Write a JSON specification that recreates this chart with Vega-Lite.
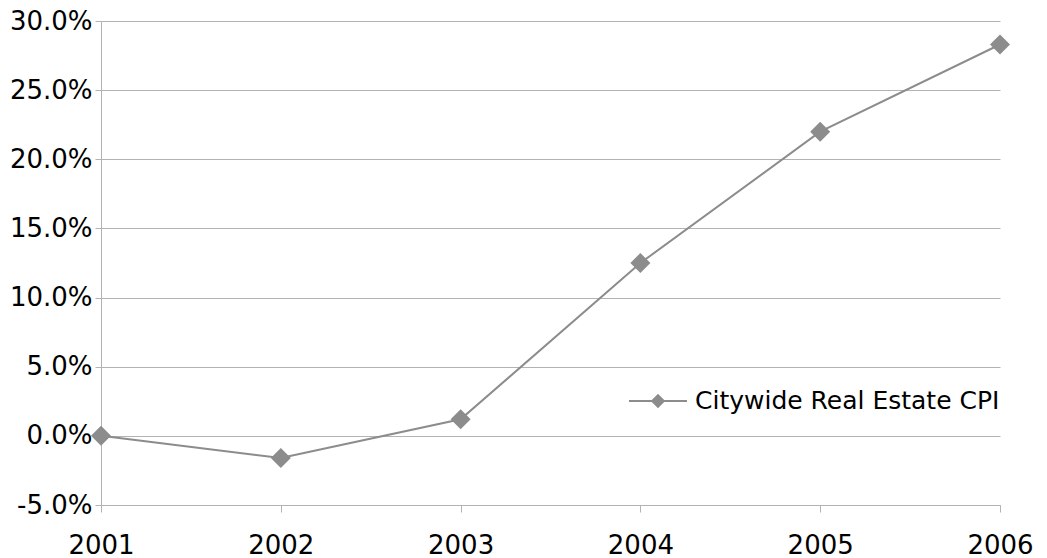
{
  "$schema": "https://vega.github.io/schema/vega-lite/v6.json",
  "width": 899,
  "height": 484,
  "autosize": "none",
  "padding": {"left": 101, "top": 21, "right": 47, "bottom": 53},
  "background": "white",
  "data": {
    "values": [
      {"year": 2001, "change": 0.0, "series": "Citywide Real Estate CPI"},
      {"year": 2002, "change": -0.016, "series": "Citywide Real Estate CPI"},
      {"year": 2003, "change": 0.012, "series": "Citywide Real Estate CPI"},
      {"year": 2004, "change": 0.125, "series": "Citywide Real Estate CPI"},
      {"year": 2005, "change": 0.22, "series": "Citywide Real Estate CPI"},
      {"year": 2006, "change": 0.283, "series": "Citywide Real Estate CPI"}
    ]
  },
  "mark": {
    "type": "line",
    "strokeWidth": 2,
    "point": {"shape": "diamond", "size": 400, "filled": true, "opacity": 1}
  },
  "encoding": {
    "x": {
      "field": "year",
      "type": "quantitative",
      "scale": {"domain": [2001, 2006], "nice": false, "zero": false},
      "axis": {
        "title": null,
        "values": [2001, 2002, 2003, 2004, 2005, 2006],
        "format": "d",
        "grid": false,
        "domain": true,
        "domainColor": "#b3b3b3",
        "tickColor": "#b3b3b3",
        "tickSize": 7,
        "labelPadding": 20,
        "labelFlush": false,
        "labelFontSize": 26,
        "labelColor": "#000000",
        "labelFont": "DejaVu Sans"
      }
    },
    "y": {
      "field": "change",
      "type": "quantitative",
      "scale": {"domain": [-0.05, 0.3], "nice": false, "zero": false},
      "axis": {
        "title": null,
        "values": [-0.05, 0, 0.05, 0.1, 0.15, 0.2, 0.25, 0.3],
        "labelExpr": "replace(format(datum.value, '.1%'), '\u2212', '-')",
        "grid": true,
        "gridColor": "#b3b3b3",
        "gridWidth": 1,
        "domain": true,
        "domainColor": "#b3b3b3",
        "tickColor": "#b3b3b3",
        "tickSize": 6,
        "labelPadding": 3,
        "labelFontSize": 26,
        "labelColor": "#000000",
        "labelFont": "DejaVu Sans"
      }
    },
    "color": {
      "field": "series",
      "type": "nominal",
      "scale": {"domain": ["Citywide Real Estate CPI"], "range": ["#8c8c8c"]},
      "legend": {
        "title": null,
        "orient": "none",
        "legendX": 527,
        "legendY": 350,
        "padding": 0,
        "symbolType": "M-1,0L1,0M0,-0.2L0.2,0L0,0.2L-0.2,0Z",
        "symbolSize": 3364,
        "symbolStrokeWidth": 2,
        "labelOffset": 7,
        "labelLimit": 0,
        "labelFontSize": 25,
        "labelColor": "#000000",
        "labelFont": "DejaVu Sans",
        "encode": {
          "symbols": {
            "update": {
              "fill": {"value": "#8c8c8c"},
              "stroke": {"value": "#8c8c8c"},
              "strokeWidth": {"value": 2},
              "opacity": {"value": 1}
            }
          }
        }
      }
    }
  },
  "config": {
    "view": {"stroke": null},
    "font": "DejaVu Sans"
  }
}
